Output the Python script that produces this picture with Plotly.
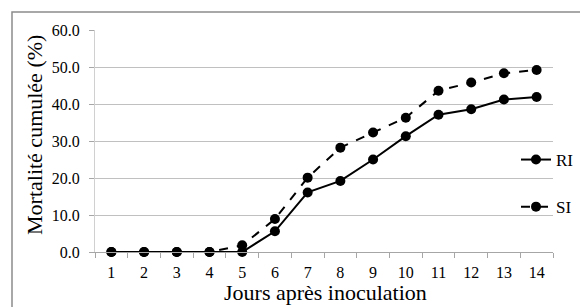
import plotly.graph_objects as go

days = [str(d) for d in range(1, 15)]
ri = [0.0, 0.0, 0.0, 0.0, 0.0, 5.6, 16.1, 19.2, 25.0, 31.3, 37.1, 38.6, 41.2, 41.9]
si = [0.0, 0.0, 0.0, 0.0, 1.8, 8.9, 20.1, 28.2, 32.3, 36.3, 43.6, 45.8, 48.3, 49.2]
y_ticks = [0, 10, 20, 30, 40, 50, 60]
y_labels = ["0.0", "10.0", "20.0", "30.0", "40.0", "50.0", "60.0"]

FONT = "Times New Roman, Liberation Serif, Tinos, DejaVu Serif, serif"
W, H = 580, 307
L, R, T, B = 95, 27, 30, 55
pw, ph = W - L - R, H - T - B

def px_x(p):
    return (p - L) / pw

def px_y(p):
    return (H - B - p) / ph

fig = go.Figure()
fig.add_trace(go.Scatter(
    x=days, y=ri, name="RI", mode="lines+markers", legendgroup="a",
    line=dict(color="black", width=2),
    marker=dict(color="black", size=10),
    cliponaxis=False,
))
fig.add_trace(go.Scatter(
    x=days, y=si, name="SI", mode="lines+markers", legendgroup="b",
    line=dict(color="black", width=2, dash="dash"),
    marker=dict(color="black", size=10),
    cliponaxis=False,
))

fig.update_layout(
    width=W, height=H,
    margin=dict(l=L, r=R, t=T, b=B, autoexpand=False),
    paper_bgcolor="white", plot_bgcolor="white",
    font=dict(family=FONT, color="black", size=16),
    showlegend=True,
    legend=dict(
        x=px_x(516), y=px_y(142), xanchor="left", yanchor="top",
        bgcolor="rgba(0,0,0,0)", font=dict(size=17, family=FONT),
        tracegroupgap=22, itemwidth=30,
    ),
    xaxis=dict(
        type="category", range=[-0.5, 13.5],
        showline=True, linecolor="#a6a6a6", linewidth=1,
        ticks="outside", tickson="boundaries", ticklen=5, tickcolor="#a6a6a6",
        showgrid=False, tickfont=dict(size=16, family=FONT),
        ticklabelstandoff=6, automargin=False,
    ),
    yaxis=dict(
        range=[0, 60], tickvals=y_ticks, ticktext=y_labels,
        showline=True, linecolor="#d0d0d0", linewidth=1,
        ticks="outside", ticklen=5, tickcolor="#a6a6a6",
        showgrid=True, gridcolor="#c0c0c0", gridwidth=1,
        zeroline=False, tickfont=dict(size=16, family=FONT),
        ticklabelstandoff=6, automargin=False,
    ),
    shapes=[dict(
        type="rect", xref="paper", yref="paper",
        x0=px_x(12), x1=px_x(600), y0=px_y(330), y1=px_y(12),
        line=dict(color="#8c8c8c", width=1.5), fillcolor="rgba(0,0,0,0)",
        layer="below",
    )],
    annotations=[
        dict(text="Mortalité cumulée (%)", xref="paper", yref="paper",
             x=px_x(34), y=px_y(135), textangle=-90, showarrow=False,
             xanchor="center", yanchor="middle",
             font=dict(size=22, family=FONT)),
        dict(text="Jours après inoculation", xref="paper", yref="paper",
             x=px_x(325), y=px_y(306.5), showarrow=False,
             xanchor="center", yanchor="bottom",
             font=dict(size=22, family=FONT)),
    ],
)

fig.write_html(
    "out.html",
    config={"displayModeBar": False},
    post_script="document.body.style.margin='0';document.body.style.overflow='hidden';",
)
